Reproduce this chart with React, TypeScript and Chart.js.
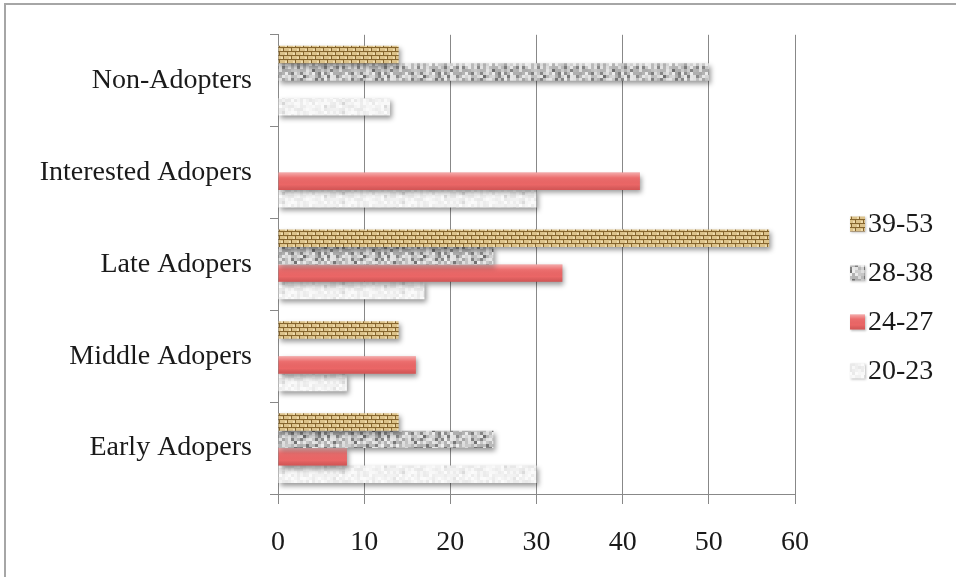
import { useEffect, useRef } from 'react';
import { Chart, registerables } from 'chart.js';

Chart.register(...registerables);

// ---- data (top-to-bottom category order, as in the reference) ----
const categories = ['Non-Adopters', 'Interested Adopers', 'Late Adopers', 'Middle Adopers', 'Early Adopers'];
const seriesNames = ['39-53', '28-38', '24-27', '20-23'];
const age39to53 = [14, 0, 57, 14, 14];
const age28to38 = [50, 0, 25, 0, 25];
const age24to27 = [0, 42, 33, 16, 8];
const age20to23 = [13, 30, 17, 8, 30];
const xTicks = [0, 10, 20, 30, 40, 50, 60];

const FONT = '"Liberation Serif", "Times New Roman", serif';
const TEXT = '#1a1a1a';
const GRID = '#888888';

function seeded(seed: number) {
  let s = seed >>> 0;
  return () => {
    s = (Math.imul(s, 1664525) + 1013904223) >>> 0;
    return s / 4294967296;
  };
}

function noisePattern(ctx: CanvasRenderingContext2D, w: number, h: number, cell: number, seed: number, lo: number, hi: number, darkProb: number, dark: number) {
  const c = document.createElement('canvas');
  c.width = w; c.height = h;
  const g = c.getContext('2d')!;
  const r = seeded(seed);
  for (let y = 0; y < h; y += cell) {
    for (let x = 0; x < w; x += cell) {
      let v = lo + r() * (hi - lo);
      if (r() < darkProb) v = dark + r() * 30;
      const iv = Math.round(v);
      g.fillStyle = `rgb(${iv},${iv},${iv})`;
      g.fillRect(x, y, cell, cell);
    }
  }
  return ctx.createPattern(c, 'repeat')!;
}

function burlapPattern(ctx: CanvasRenderingContext2D) {
  const c = document.createElement('canvas');
  c.width = 8; c.height = 8;
  const g = c.getContext('2d')!;
  g.fillStyle = '#dcc28a';
  g.fillRect(0, 0, 8, 8);
  g.fillStyle = '#efdcae';
  g.fillRect(1, 1, 2, 2);
  g.fillRect(5, 5, 2, 2);
  g.fillStyle = '#85652e';
  g.fillRect(0, 3, 8, 1);
  g.fillRect(0, 7, 8, 1);
  g.fillRect(3, 0, 1, 3);
  g.fillRect(7, 4, 1, 3);
  return ctx.createPattern(c, 'repeat')!;
}

function drawGloss(ctx: CanvasRenderingContext2D, left: number, top: number, w: number, h: number) {
  const grad = ctx.createLinearGradient(0, top, 0, top + h);
  grad.addColorStop(0, 'rgba(255,255,255,0.45)');
  grad.addColorStop(0.3, 'rgba(255,255,255,0.06)');
  grad.addColorStop(0.7, 'rgba(0,0,0,0)');
  grad.addColorStop(1, 'rgba(110,0,0,0.18)');
  ctx.fillStyle = grad;
  ctx.fillRect(left, top, w, h);
}

const framePlugin = {
  id: 'frame',
  beforeDraw(chart: any) {
    const ctx = chart.ctx as CanvasRenderingContext2D;
    ctx.save();
    ctx.fillStyle = '#ffffff';
    ctx.fillRect(0, 0, chart.width, chart.height);
    ctx.strokeStyle = '#a6a6a6';
    ctx.lineWidth = 2;
    ctx.strokeRect(5, 4, chart.width + 50, chart.height + 50);
    ctx.restore();
  },
};

const shadowPlugin = {
  id: 'barShadow',
  beforeDatasetsDraw(chart: any) {
    const ctx = chart.ctx as CanvasRenderingContext2D;
    ctx.save();
    ctx.shadowColor = 'rgba(0,0,0,0.4)';
    ctx.shadowBlur = 5;
    ctx.shadowOffsetX = 2;
    ctx.shadowOffsetY = 3;
  },
  afterDatasetsDraw(chart: any) {
    const ctx = chart.ctx as CanvasRenderingContext2D;
    ctx.restore();
    const meta = chart.getDatasetMeta(2);
    ctx.save();
    meta.data.forEach((bar: any) => {
      const p = bar.getProps(['x', 'y', 'base', 'height'], true);
      const w = p.x - p.base;
      if (w <= 0) return;
      drawGloss(ctx, p.base, p.y - p.height / 2, w, p.height);
    });
    ctx.restore();
  },
};

const legendPlugin = {
  id: 'sideLegend',
  afterDraw(chart: any) {
    const ctx = chart.ctx as CanvasRenderingContext2D;
    const boxX = 850;
    const textX = 868;
    const y0 = 224;
    const step = 49;
    const size = 15;
    chart.data.datasets.forEach((ds: any, i: number) => {
      const yc = y0 + i * step;
      ctx.save();
      ctx.shadowColor = 'rgba(0,0,0,0.25)';
      ctx.shadowBlur = 2;
      ctx.shadowOffsetX = 1;
      ctx.shadowOffsetY = 1;
      ctx.fillStyle = ds.backgroundColor;
      ctx.fillRect(boxX, yc - size / 2, size, size);
      ctx.restore();
      if (i === 2) {
        ctx.save();
        drawGloss(ctx, boxX, yc - size / 2, size, size);
        ctx.restore();
      }
      ctx.save();
      ctx.fillStyle = TEXT;
      ctx.font = `28px ${FONT}`;
      ctx.textBaseline = 'middle';
      ctx.textAlign = 'left';
      ctx.fillText(ds.label, textX, yc + 1);
      ctx.restore();
    });
  },
};

export default function App() {
  const ref = useRef<HTMLCanvasElement | null>(null);

  useEffect(() => {
    const canvas = ref.current!;
    const ctx = canvas.getContext('2d')!;
    const burlap = burlapPattern(ctx);
    const granite = noisePattern(ctx, 60, 30, 3, 7, 165, 240, 0.14, 110);
    const marble = noisePattern(ctx, 60, 30, 3, 13, 232, 252, 0.05, 212);
    const red = '#eb6666';

    const seriesValues = [age39to53, age28to38, age24to27, age20to23];
    const fills = [burlap, granite, red, marble];

    const chart = new Chart(canvas, {
      type: 'bar',
      data: {
        labels: categories,
        datasets: seriesNames.map((name, i) => ({
          label: name,
          data: seriesValues[i],
          backgroundColor: fills[i] as any,
          borderWidth: 0,
          categoryPercentage: 0.76,
          barPercentage: 1.0,
        })),
      },
      options: {
        indexAxis: 'y',
        responsive: false,
        animation: false,
        devicePixelRatio: 1,
        layout: { padding: { left: 0, top: 33, right: 161, bottom: 0 } },
        plugins: {
          legend: { display: false },
          tooltip: { enabled: false },
        },
        scales: {
          x: {
            type: 'linear',
            min: xTicks[0],
            max: xTicks[xTicks.length - 1],
            ticks: {
              stepSize: xTicks[1] - xTicks[0],
              color: TEXT,
              font: { family: FONT, size: 28 },
              padding: 22,
              maxRotation: 0,
            },
            grid: {
              color: GRID,
              lineWidth: 1,
              tickLength: 10,
              drawOnChartArea: true,
            },
            border: { display: true, color: GRID, width: 1 },
            afterFit: (s: any) => { s.height = 83; },
          },
          y: {
            type: 'category',
            ticks: {
              color: TEXT,
              font: { family: FONT, size: 28 },
              padding: 18,
            },
            grid: {
              color: GRID,
              lineWidth: 1,
              tickLength: 8,
              drawOnChartArea: false,
              offset: true,
            },
            border: { display: true, color: GRID, width: 1 },
            afterFit: (s: any) => { s.width = 278; },
          },
        },
      },
      plugins: [framePlugin, shadowPlugin, legendPlugin],
    });
    return () => chart.destroy();
  }, []);

  return (
    <div style={{ position: 'absolute', left: 0, top: 0, width: 956, height: 577, background: '#fff' }}>
      <canvas ref={ref} width={956} height={577} style={{ display: 'block', width: 956, height: 577 }} />
    </div>
  );
}
